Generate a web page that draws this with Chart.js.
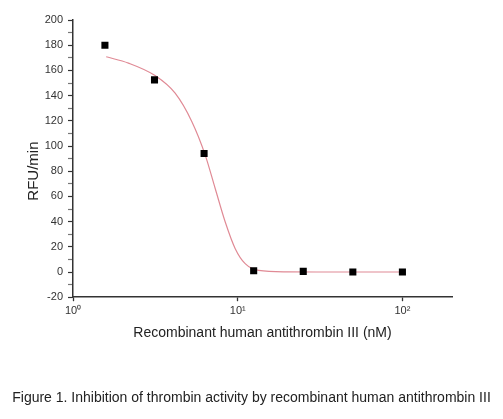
<!DOCTYPE html>
<html>
<head>
<meta charset="utf-8">
<script src="https://cdn.jsdelivr.net/npm/chart.js@4.4.0/dist/chart.umd.min.js"></script>
<style>
  html, body { margin: 0; padding: 0; background: #ffffff; }
  #wrap { width: 503px; height: 419px; }
</style>
</head>
<body>
<div id="wrap"><canvas id="c" width="503" height="419"></canvas></div>
<script>
// Measured points
const concentrations = [1.5625, 3.125, 6.25, 12.5, 25, 50, 100];
const rfu = [180, 152.5, 94, 1, 0.5, 0, 0];

// Fitted curve
const curveX = [1.59, 2.17, 3.15, 4.17, 5.27, 6.35, 7.30, 8.40, 9.66, 11.1, 13.4, 20, 30, 50, 100];
const curveY = [170.8, 165.8, 155.9, 141.9, 119.3, 92.8, 66.3, 39.7, 18.5, 6.6, 1.3, 0.1, 0, 0, 0];

// Tick labels
const xTickValues = [1, 10, 100];
const xTickLabels = ['10\u2070', '10\u00B9', '10\u00B2'];
const yTickLabelStep = 20;

const xTitle = 'Recombinant human antithrombin III (nM)';
const yTitle = 'RFU/min      ';
const caption = 'Figure 1. Inhibition of thrombin activity by recombinant human antithrombin III';

const FONT = "'Liberation Sans', Arial, sans-serif";
const AXIS = '#333333';

new Chart(document.getElementById('c'), {
  type: 'scatter',
  data: {
    datasets: [
      {
        label: 'fit',
        type: 'line',
        data: curveX.map((x, i) => ({ x: x, y: curveY[i] })),
        borderColor: '#e08a95',
        borderWidth: 1.2,
        pointRadius: 0,
        cubicInterpolationMode: 'monotone',
        fill: false,
        order: 2
      },
      {
        label: 'data',
        data: concentrations.map((x, i) => ({ x: x, y: rfu[i] })),
        pointStyle: 'rect',
        pointRadius: 5,
        backgroundColor: '#000000',
        borderColor: '#000000',
        borderWidth: 0,
        order: 1
      }
    ]
  },
  options: {
    responsive: false,
    animation: false,
    devicePixelRatio: 1,
    layout: { padding: { top: 20, right: 0, left: 0, bottom: 6 } },
    plugins: {
      legend: { display: false },
      tooltip: { enabled: false },
      title: {
        display: true,
        position: 'bottom',
        text: caption,
        color: '#222222',
        font: { family: FONT, size: 14, weight: 'normal' },
        padding: { top: 45, bottom: 6 }
      }
    },
    scales: {
      x: {
        type: 'logarithmic',
        min: 1,
        max: 200,
        afterBuildTicks: (scale) => { scale.ticks = xTickValues.map(v => ({ value: v })); },
        afterFit: (scale) => { scale.height = 48; },
        ticks: {
          autoSkip: false,
          maxRotation: 0,
          color: '#333333',
          padding: 3,
          font: { family: FONT, size: 11 },
          callback: (v) => { const i = xTickValues.indexOf(v); return i >= 0 ? xTickLabels[i] : ''; }
        },
        grid: { display: true, drawOnChartArea: false, drawTicks: true, tickLength: 4, color: AXIS, tickWidth: 1.3 },
        border: { display: true, color: AXIS, width: 1.5 },
        title: {
          display: true,
          text: xTitle,
          color: '#222222',
          font: { family: FONT, size: 14 },
          padding: { top: 0, bottom: 4 }
        }
      },
      y: {
        min: -20,
        max: 200,
        afterFit: (scale) => { scale.width = 73; },
        ticks: {
          stepSize: 10,
          autoSkip: false,
          color: '#333333',
          padding: 5,
          font: { family: FONT, size: 11 },
          callback: (v) => (v % yTickLabelStep === 0 ? String(v) : '')
        },
        grid: {
          display: true,
          drawOnChartArea: false,
          drawTicks: true,
          tickLength: 5,
          color: AXIS,
          tickColor: (ctx) => (ctx.tick && ctx.tick.value % yTickLabelStep === 0 ? AXIS : '#777777'),
          tickWidth: 1.2
        },
        border: { display: true, color: AXIS, width: 1.5 },
        title: {
          display: true,
          text: yTitle,
          color: '#222222',
          font: { family: FONT, size: 15 },
          padding: { top: 25, bottom: 0 }
        }
      },
      yRight: {
        position: 'right',
        min: -20,
        max: 200,
        afterFit: (scale) => { scale.width = 51; },
        ticks: { display: false },
        grid: { display: false, drawTicks: false },
        border: { display: false },
        title: { display: false }
      }
    }
  }
});
</script>
</body>
</html>
